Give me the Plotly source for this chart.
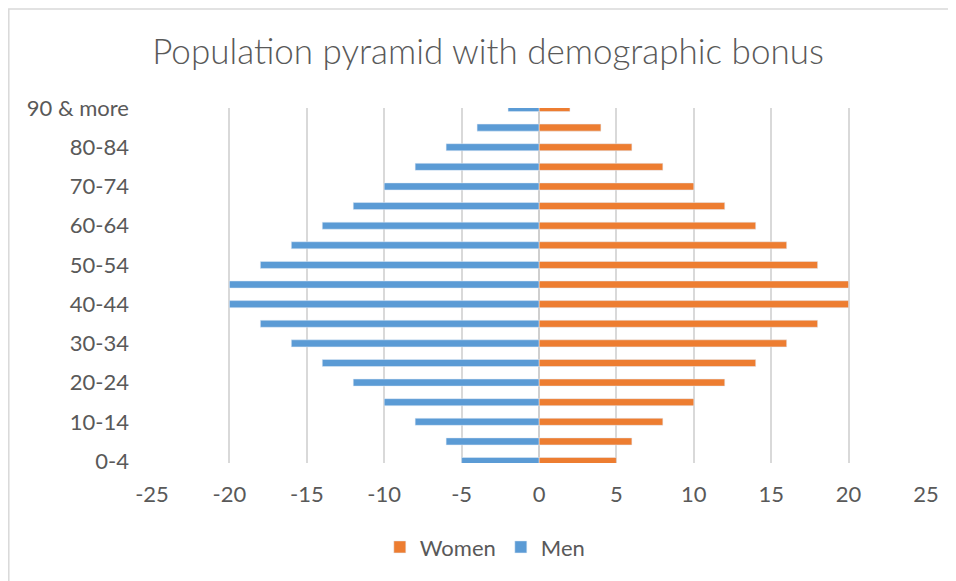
import plotly.graph_objects as go

age_groups = ["0-4", "5-9", "10-14", "15-19", "20-24", "25-29", "30-34", "35-39",
              "40-44", "45-49", "50-54", "55-59", "60-64", "65-69", "70-74",
              "75-79", "80-84", "85-89", "90 & more"]
men = [-5, -6, -8, -10, -12, -14, -16, -18, -20, -20, -18, -16, -14, -12, -10, -8, -6, -4, -2]
women = [5, 6, 8, 10, 12, 14, 16, 18, 20, 20, 18, 16, 14, 12, 10, 8, 6, 4, 2]
x_ticks = [-25, -20, -15, -10, -5, 0, 5, 10, 15, 20, 25]
x_ticklabels = ["-25", "-20", "-15", "-10", "-5", "0", "5", "10", "15", "20", "25"]
y_ticklabels = ["0-4", "10-14", "20-24", "30-34", "40-44", "50-54", "60-64", "70-74", "80-84", "90 & more"]

FONT = "Lato"
GRAY = "#595959"
GRID = "#d9d9d9"

# page body has an 8px default margin: figure spans 8..956 x 8..581 in the window
W, H = 948, 573

fig = go.Figure()
fig.add_trace(go.Bar(y=age_groups, x=women, orientation="h", name="Women",
                     marker=dict(color="#ED7D31"), width=0.36))
fig.add_trace(go.Bar(y=age_groups, x=men, orientation="h", name="Men",
                     marker=dict(color="#5B9BD5"), width=0.36))

fig.update_layout(
    width=W, height=H,
    margin=dict(l=144, r=30, t=100, b=118),
    paper_bgcolor="white", plot_bgcolor="white",
    barmode="overlay",
    font=dict(family=FONT, color=GRAY, size=22),
    title=dict(text="Population pyramid with demographic bonus",
               x=(488 - 8) / W, xanchor="center", y=1 - (52 - 8) / H, yanchor="middle",
               font=dict(family=FONT, size=35, color=GRAY, weight=300)),
    xaxis=dict(range=[-25, 25], tickvals=x_ticks, ticktext=x_ticklabels,
               showgrid=True, gridcolor=GRID,
               gridwidth=1.5, zeroline=True, zerolinecolor="#cfcfcf", zerolinewidth=2,
               showline=False, ticks="", ticklabelstandoff=16,
               tickfont=dict(size=22, color=GRAY)),
    yaxis=dict(type="category", categoryorder="array", categoryarray=age_groups,
               range=[-0.1, 18], tickvals=y_ticklabels, ticktext=y_ticklabels,
               showgrid=False, zeroline=False, showline=False, ticks="",
               ticklabelstandoff=22, tickfont=dict(size=22, color=GRAY)),
    yaxis2=dict(overlaying="y", anchor="free", position=0.5, range=[-0.1, 18],
                tick0=0, dtick=0.5, ticks="outside", ticklen=5, tickwidth=1.5,
                tickcolor=GRID, showticklabels=False, showgrid=False,
                zeroline=False, showline=False, side="left"),
    legend=dict(orientation="h", x=0.43, xanchor="center", y=-0.237, yanchor="middle",
                font=dict(size=22, color=GRAY), traceorder="normal",
                itemwidth=30),
    showlegend=True,
    shapes=[dict(type="rect", xref="paper", yref="paper",
                 x0=(8.8 - 152) / 774, x1=(980 - 152) / 774,
                 y0=(463 - 620) / 355, y1=(463 - 9) / 355,
                 line=dict(color="#d9d9d9", width=1.5), fillcolor="rgba(0,0,0,0)",
                 layer="below")],
)

fig.write_html("out.html")
